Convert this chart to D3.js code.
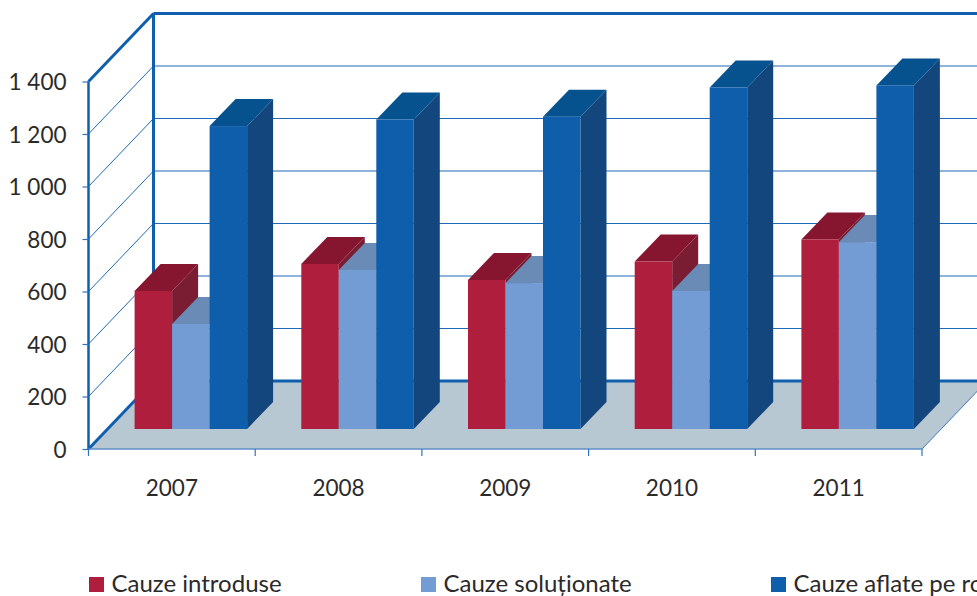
<!DOCTYPE html>
<html>
<head>
<meta charset="utf-8">
<script src="https://cdn.jsdelivr.net/npm/d3@7"></script>
<style>
  html, body { margin: 0; padding: 0; background: #fff; overflow: hidden; }
  text { font-family: Lato, sans-serif; fill: #2b2a29; }
</style>
</head>
<body>
<svg id="chart" width="977" height="596"></svg>
<script>
var years = ['2007', '2008', '2009', '2010', '2011'];
var seriesNames = ['Cauze introduse', 'Cauze soluționate', 'Cauze aflate pe rol'];
var introduse = [526, 629, 568, 638, 722];
var solutionate = [400, 606, 556, 526, 712];
var peRol = [1154, 1179, 1190, 1301, 1309];
var yTicks = [0, 200, 400, 600, 800, 1000, 1200, 1400];
var legendX = [89, 421, 771];

var colors = [
  {front: '#af1e3c', top: '#86152f', side: '#7a1c32'},
  {front: '#729cd3', top: '#6a8bb5', side: '#5f80aa'},
  {front: '#0f5eab', top: '#05528f', side: '#13467c'}
];
var gridColor = '#1e6ab4';
var axisFont = '22.5px';
var legendFont = '24px';

var svg = d3.select('#chart');

// front plane of the box, the back wall is this plane moved by (wallX, wallY)
var wallX = 65, wallY = -68;
var barShiftX = 19, barShiftY = -20;   // bars stand this far into the floor
var barDepthX = 26, barDepthY = -27;

var x = d3.scaleBand().domain(years).range([88.5, 922]);
var y = d3.scaleLinear().domain([0, 1400]).range([449, 81.5]);
var inner = d3.scaleBand().domain([0, 1, 2]).range([0, 112.5]);
var innerPad = (x.bandwidth() - 112.5) / 2;

function pts(a) {
  return a.map(function (p) { return p.join(','); }).join(' ');
}

// floor
svg.append('polygon')
  .attr('points', pts([
    [x.range()[0], y(0)], [x.range()[1], y(0)],
    [x.range()[1] + wallX, y(0) + wallY], [x.range()[0] + wallX, y(0) + wallY]
  ]))
  .attr('fill', '#b8c8d2');

// grid on side wall and back wall
var grid = svg.append('g');
grid.selectAll('.side').data(yTicks.slice(1, -1)).enter().append('line')
  .attr('x1', 88.5).attr('y1', function (d) { return y(d); })
  .attr('x2', 88.5 + wallX).attr('y2', function (d) { return y(d) + wallY; })
  .attr('stroke', gridColor).attr('stroke-width', 1);
grid.selectAll('.back').data(yTicks.slice(1)).enter().append('line')
  .attr('x1', 88.5 + wallX).attr('y1', function (d) { return y(d) + wallY; })
  .attr('x2', 977).attr('y2', function (d) { return y(d) + wallY; })
  .attr('stroke', gridColor).attr('stroke-width', 1.2);

// heavy frame
var frame = [
  [88.5, y(0), 88.5, y(1400), 2.5],
  [88.5, y(1400), 88.5 + wallX, y(1400) + wallY, 3],
  [88.5 + wallX, y(0) + wallY, 88.5 + wallX, y(1400) + wallY, 3],
  [88.5 + wallX, y(1400) + wallY, 977, y(1400) + wallY, 3],
  [88.5, y(0), 88.5 + wallX, y(0) + wallY, 3],
  [88.5 + wallX, y(0) + wallY, 977, y(0) + wallY, 3]
];
svg.append('g').selectAll('line').data(frame).enter().append('line')
  .attr('x1', function (d) { return d[0]; })
  .attr('y1', function (d) { return d[1]; })
  .attr('x2', function (d) { return d[2]; })
  .attr('y2', function (d) { return d[3]; })
  .attr('stroke', '#0f5fae')
  .attr('stroke-width', function (d) { return d[4]; });

// front and right edge of the floor
svg.append('line')
  .attr('x1', 88.5).attr('y1', y(0)).attr('x2', 922).attr('y2', y(0))
  .attr('stroke', '#5f8fc6').attr('stroke-width', 1.5);
svg.append('line')
  .attr('x1', 922).attr('y1', y(0)).attr('x2', 922 + wallX).attr('y2', y(0) + wallY)
  .attr('stroke', '#3d78bd').attr('stroke-width', 1);

// bars, painted left to right so each one hides the side of the previous
var allSeries = [introduse, solutionate, peRol];
var base = y(0) + barShiftY;
years.forEach(function (year, i) {
  var g = svg.append('g');
  allSeries.forEach(function (values, s) {
    var x0 = x(year) + innerPad + barShiftX + inner(s);
    var x1 = x0 + inner.bandwidth();
    var top = base - (y(0) - y(values[i]));
    g.append('polygon')
      .attr('points', pts([[x1, top], [x1 + barDepthX, top + barDepthY], [x1 + barDepthX, base + barDepthY], [x1, base]]))
      .attr('fill', colors[s].side);
    g.append('polygon')
      .attr('points', pts([[x0, top], [x1, top], [x1 + barDepthX, top + barDepthY], [x0 + barDepthX, top + barDepthY]]))
      .attr('fill', colors[s].top);
    g.append('rect')
      .attr('x', x0).attr('y', top)
      .attr('width', inner.bandwidth()).attr('height', base - top)
      .attr('fill', colors[s].front);
  });
});

// axes
var yAxis = d3.axisLeft(y).tickValues(yTicks).tickSize(6).tickPadding(16)
  .tickFormat(function (d) { return d3.format(',')(d).replace(',', ' '); });
var yG = svg.append('g').attr('transform', 'translate(88.5,1)').call(yAxis);
yG.select('.domain').remove();
yG.selectAll('line').attr('stroke', '#2f74bb').attr('stroke-width', 1.2).attr('transform', 'translate(0,-1)');
yG.selectAll('text').style('font-size', axisFont).attr('font-family', null);

var xAxis = d3.axisBottom(x).tickSize(0).tickPadding(31);
var xG = svg.append('g').attr('transform', 'translate(0,449)').call(xAxis);
xG.select('.domain').remove();
xG.selectAll('text').style('font-size', axisFont).attr('font-family', null);

svg.append('g').selectAll('line')
  .data(years.map(function (d) { return x(d); }).concat([x.range()[1]]))
  .enter().append('line')
  .attr('x1', function (d) { return d; }).attr('x2', function (d) { return d; })
  .attr('y1', 449).attr('y2', 456)
  .attr('stroke', '#2f74bb').attr('stroke-width', 1.2);

// legend
var legend = svg.selectAll('.legend').data(seriesNames).enter().append('g')
  .attr('class', 'legend')
  .attr('transform', function (d, i) { return 'translate(' + legendX[i] + ',577)'; });
legend.append('rect')
  .attr('width', 15).attr('height', 15)
  .attr('fill', function (d, i) { return colors[i].front; });
legend.append('text')
  .attr('x', 22.5).attr('y', 15)
  .style('font-size', legendFont)
  .text(function (d) { return d; });
</script>
</body>
</html>
